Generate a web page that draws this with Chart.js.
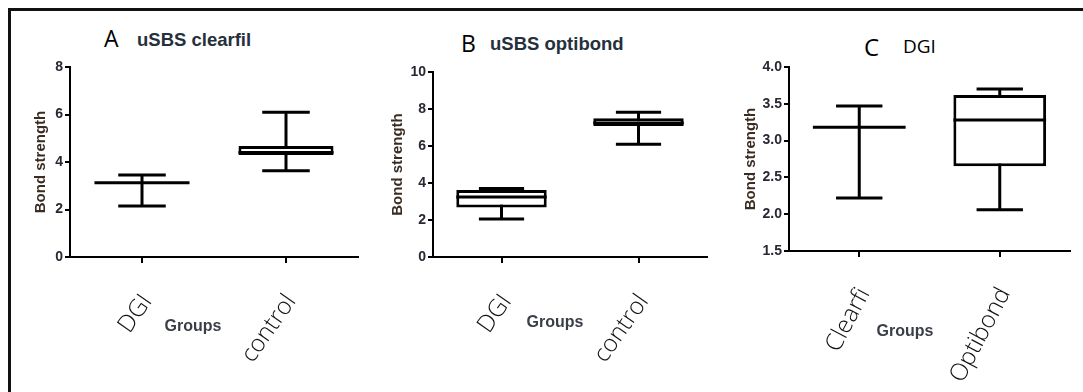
<!DOCTYPE html>
<html>
<head>
<meta charset="utf-8">
<script src="https://cdn.jsdelivr.net/npm/chart.js@4.4.1/dist/chart.umd.min.js"></script>
<style>
  html, body { margin: 0; padding: 0; background: #fff; width: 1083px; height: 392px; overflow: hidden; }
  #frame { position: absolute; left: 8px; top: 8px; width: 1100px; height: 400px; border-top: 3px solid #111; border-left: 3px solid #111; }
  canvas { position: absolute; }
  .t { position: absolute; white-space: nowrap; line-height: 1; }
  .letter { font-family: "Open Sans", sans-serif; color: #000; }
  .head { font-family: "Liberation Sans", Arial, sans-serif; font-weight: bold; font-size: 18.5px; color: #26303c; }
  .grp { font-family: "Liberation Sans", Arial, sans-serif; font-weight: bold; font-size: 16px; color: #3a3f47; transform: translateX(-50%); }
</style>
</head>
<body>
<div id="frame"></div>

<div class="t letter" style="left:104px; top:27px; font-size:23px">A</div>
<div class="t head" style="left:137px; top:31px">uSBS clearfil</div>
<div class="t letter" style="left:461px; top:32px; font-size:23px">B</div>
<div class="t head" style="left:490px; top:35px">uSBS optibond</div>
<div class="t letter" style="left:864px; top:35px; font-size:24px">C</div>
<div class="t letter" style="left:903px; top:37px; font-size:19px">DGI</div>

<canvas id="chartA" width="334" height="337" style="left:32px; top:55px"></canvas>
<canvas id="chartB" width="326" height="332" style="left:389px; top:60px"></canvas>
<canvas id="chartC" width="336" height="331" style="left:742px; top:55px"></canvas>

<div class="t grp" style="left:193px; top:318px">Groups</div>
<div class="t grp" style="left:555px; top:314px">Groups</div>
<div class="t grp" style="left:905px; top:323px">Groups</div>

<script>
// A: uSBS clearfil
const groupsA = ['DGI', 'control']
const minA = [2.15, 3.63]
const q1A = [3.13, 4.29]
const medA = [3.13, 4.40]
const q3A = [3.13, 4.67]
const maxA = [3.45, 6.10]

// B: uSBS optibond
const groupsB = ['DGI', 'control']
const minB = [2.05, 6.10]
const q1B = [2.68, 7.08]
const medB = [3.25, 7.25]
const q3B = [3.62, 7.50]
const maxB = [3.70, 7.82]

// C: DGI
const groupsC = ['Clearfi', 'Optibond']
const minC = [2.22, 2.06]
const q1C = [3.18, 2.65]
const medC = [3.18, 3.28]
const q3C = [3.18, 3.62]
const maxC = [3.47, 3.70]

const INK = '#000'

// whiskers behind the box, median and caps on top
function whiskerPlugin(mins, meds, maxs) {
    const yOf = (chart, v) => chart.scales.y.getPixelForValue(v)
    return {
        id: 'whiskers',
        beforeDatasetsDraw(chart) {
            const ctx = chart.ctx
            ctx.save()
            ctx.strokeStyle = INK
            ctx.lineWidth = 3
            chart.getDatasetMeta(0).data.forEach((bar, i) => {
                ctx.beginPath()
                ctx.moveTo(bar.x, yOf(chart, mins[i]))
                ctx.lineTo(bar.x, yOf(chart, maxs[i]))
                ctx.stroke()
            })
            ctx.restore()
        },
        afterDatasetsDraw(chart) {
            const ctx = chart.ctx
            ctx.save()
            ctx.strokeStyle = INK
            ctx.lineWidth = 3
            chart.getDatasetMeta(0).data.forEach((bar, i) => {
                const half = bar.width / 2
                const cap = bar.width / 4
                ctx.beginPath()
                ctx.moveTo(bar.x - half, yOf(chart, meds[i]))
                ctx.lineTo(bar.x + half, yOf(chart, meds[i]))
                ctx.moveTo(bar.x - cap, yOf(chart, maxs[i]))
                ctx.lineTo(bar.x + cap, yOf(chart, maxs[i]))
                ctx.moveTo(bar.x - cap, yOf(chart, mins[i]))
                ctx.lineTo(bar.x + cap, yOf(chart, mins[i]))
                ctx.stroke()
            })
            ctx.restore()
        }
    }
}

function buildPanel(id, groups, mins, q1s, meds, q3s, maxs, yRange, yAxisWidth, rotation) {
    const [yMin, yMax, step, decimals] = yRange
    return new Chart(document.getElementById(id), {
        type: 'bar',
        data: {
            labels: groups,
            datasets: [{
                data: groups.map((g, i) => [q1s[i], q3s[i]]),
                backgroundColor: '#fff',
                borderColor: INK,
                borderWidth: 3,
                borderSkipped: false,
                barPercentage: 0.66,
                categoryPercentage: 1,
            }]
        },
        options: {
            responsive: false,
            animation: false,
            layout: { padding: { top: 12, right: 8, left: 0, bottom: 0 } },
            plugins: { legend: { display: false }, tooltip: { enabled: false } },
            scales: {
                x: {
                    offset: true,
                    grid: { display: true, offset: false, drawOnChartArea: false, drawTicks: true, tickLength: 6, color: INK, lineWidth: 2 },
                    border: { display: true, color: INK, width: 2 },
                    ticks: {
                        autoSkip: false, minRotation: rotation, maxRotation: rotation, padding: 26, labelOffset: 5,
                        color: '#111', font: { family: '"Open Sans", sans-serif', size: 24, weight: 300 }
                    },
                    afterFit: s => { s.height = 135 }
                },
                y: {
                    min: yMin, max: yMax,
                    grid: { display: true, drawOnChartArea: false, drawTicks: true, tickLength: 5, color: INK, lineWidth: 2 },
                    border: { display: true, color: INK, width: 2 },
                    ticks: {
                        stepSize: step, padding: 2, color: '#2a2733',
                        font: { family: '"Liberation Sans", Arial, sans-serif', size: 14, weight: 'bold' },
                        callback: v => Number(v).toFixed(decimals)
                    },
                    title: {
                        display: true, text: 'Bond strength', padding: 0, color: '#3b2c22',
                        font: { family: '"Liberation Sans", Arial, sans-serif', size: 15, weight: 'bold' }
                    },
                    afterFit: s => { s.width = yAxisWidth }
                }
            }
        },
        plugins: [whiskerPlugin(mins, meds, maxs)]
    })
}

buildPanel('chartA', groupsA, minA, q1A, medA, q3A, maxA, [0, 8, 2, 0], 38, 55)
buildPanel('chartB', groupsB, minB, q1B, medB, q3B, maxB, [0, 10, 2, 0], 44, 55)
buildPanel('chartC', groupsC, minC, q1C, medC, q3C, maxC, [1.5, 4.0, 0.5, 1], 47, 62)
</script>
</body>
</html>
